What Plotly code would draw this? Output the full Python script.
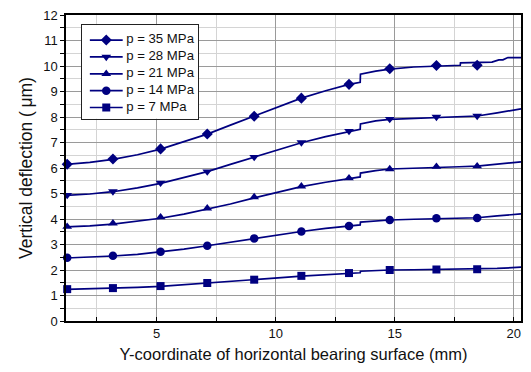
import plotly.graph_objects as go

# Pressure load cases
pressures = ["p = 35 MPa", "p = 28 MPa", "p = 21 MPa", "p = 14 MPa", "p = 7 MPa"]
symbols = ["diamond", "triangle-down", "triangle-up", "circle", "square"]
marker_sizes = [8.5, 8.5, 8.5, 8.5, 8]

# Marker positions (mm) and vertical deflection (um)
x_mark = [1.25, 3.17, 5.17, 7.13, 9.1, 11.08, 13.08, 14.79, 16.75, 18.46]
y_mark_35 = [6.15, 6.35, 6.75, 7.33, 8.03, 8.74, 9.28, 9.89, 10.02, 10.03]
y_mark_28 = [4.94, 5.08, 5.42, 5.86, 6.43, 7.0, 7.45, 7.92, 8.0, 8.04]
y_mark_21 = [3.70, 3.83, 4.07, 4.42, 4.86, 5.28, 5.60, 5.96, 6.05, 6.07]
y_mark_14 = [2.48, 2.56, 2.72, 2.95, 3.24, 3.51, 3.73, 3.96, 4.03, 4.04]
y_mark_7 = [1.25, 1.29, 1.37, 1.49, 1.62, 1.77, 1.88, 2.0, 2.02, 2.03]

# Continuous deflection profiles
x_line_35 = [1.21, 2.2, 3.17, 4.2, 5.17, 6.15, 7.13, 8.1, 9.1, 10.1, 11.08, 12.1, 13.08,
             13.55, 13.56, 14.2, 14.79, 15.8, 16.75, 17.75, 17.76, 18.46, 19.08, 19.37,
             19.54, 19.75, 20.3]
y_line_35 = [6.14, 6.22, 6.34, 6.52, 6.74, 7.02, 7.33, 7.68, 8.03, 8.40, 8.74, 9.03, 9.28,
             9.36, 9.68, 9.80, 9.88, 9.96, 10.0, 10.03, 10.12, 10.13, 10.15, 10.24,
             10.24, 10.33, 10.33]

x_line = [1.21, 2.2, 3.17, 4.2, 5.17, 6.15, 7.13, 8.1, 9.1, 10.1, 11.08, 12.1, 13.08,
          13.55, 13.56, 14.2, 14.79, 15.8, 16.75, 17.7, 18.46, 19.3, 20.3]
y_line_28 = [4.93, 4.98, 5.07, 5.22, 5.40, 5.62, 5.86, 6.14, 6.42, 6.72, 6.99, 7.23, 7.43,
             7.52, 7.73, 7.85, 7.91, 7.95, 7.98, 8.01, 8.04, 8.16, 8.32]
y_line_21 = [3.69, 3.73, 3.80, 3.91, 4.03, 4.19, 4.38, 4.59, 4.83, 5.05, 5.27, 5.44, 5.59,
             5.65, 5.80, 5.90, 5.96, 6.0, 6.03, 6.05, 6.07, 6.14, 6.24]
y_line_14 = [2.47, 2.50, 2.55, 2.61, 2.71, 2.82, 2.95, 3.09, 3.24, 3.38, 3.51, 3.63, 3.73,
             3.77, 3.88, 3.93, 3.96, 3.99, 4.02, 4.04, 4.05, 4.12, 4.20]
y_line_7 = [1.24, 1.26, 1.28, 1.32, 1.36, 1.42, 1.48, 1.55, 1.62, 1.69, 1.76, 1.82, 1.87,
            1.89, 1.95, 1.98, 2.0, 2.01, 2.02, 2.02, 2.03, 2.06, 2.11]

x_ticks = [5, 10, 15, 20]
y_ticks = list(range(0, 13))

lines_x = [x_line_35, x_line, x_line, x_line, x_line]
lines_y = [y_line_35, y_line_28, y_line_21, y_line_14, y_line_7]
marks_y = [y_mark_35, y_mark_28, y_mark_21, y_mark_14, y_mark_7]

color = "#000080"
line_w = 1.7
fig = go.Figure()

for name, sym, ms, lx, ly, my in zip(pressures, symbols, marker_sizes, lines_x, lines_y, marks_y):
    fig.add_trace(go.Scatter(x=lx, y=ly, mode="lines", line=dict(color=color, width=line_w),
                             showlegend=False, hoverinfo="skip", name=name))
    fig.add_trace(go.Scatter(x=x_mark, y=my, mode="markers", cliponaxis=False,
                             marker=dict(symbol=sym, size=ms, color=color),
                             showlegend=False, name=name))

# Key box drawn in a small inset subplot (x2/y2), rows top to bottom
row_y = [0.84, 0.66, 0.48, 0.30, 0.12]
for name, sym, ms, ry in zip(pressures, symbols, marker_sizes, row_y):
    fig.add_trace(go.Scatter(x=[0.068, 0.35], y=[ry, ry], mode="lines",
                             line=dict(color=color, width=line_w),
                             xaxis="x2", yaxis="y2", showlegend=False, hoverinfo="skip"))
    fig.add_trace(go.Scatter(x=[0.209], y=[ry], mode="markers",
                             marker=dict(symbol=sym, size=ms, color=color),
                             xaxis="x2", yaxis="y2", showlegend=False, hoverinfo="skip"))
    fig.add_trace(go.Scatter(x=[0.38], y=[ry], mode="text", text=[name],
                             textposition="middle right",
                             textfont=dict(size=13.2, color="#111111"),
                             xaxis="x2", yaxis="y2", showlegend=False, hoverinfo="skip"))

font_family = "Liberation Sans, Arial, sans-serif"
fig.update_layout(
    width=531, height=372,
    margin=dict(l=66, r=8, t=14, b=51),
    paper_bgcolor="white", plot_bgcolor="white",
    font=dict(family=font_family, color="#111111"),
    showlegend=False,
    xaxis=dict(range=[1.2, 20.3], tickvals=x_ticks, ticks="inside", ticklen=4,
               tickcolor="black", showline=True, linecolor="black", linewidth=1.5,
               mirror=True, showgrid=True, gridcolor="#9a9a9a", gridwidth=1,
               zeroline=False, tickfont=dict(size=13),
               minor=dict(dtick=2.5, tick0=0, showgrid=True, gridcolor="#d4d4d4",
                          ticks="inside", ticklen=4, tickcolor="black"),
               title=dict(text="Y-coordinate of horizontal bearing surface (mm)",
                          font=dict(size=16.5), standoff=8)),
    yaxis=dict(range=[0, 12], tickvals=y_ticks, ticks="outside", ticklen=4,
               tickcolor="black", showline=True, linecolor="black", linewidth=1.5,
               mirror=True, showgrid=True, gridcolor="#9a9a9a", gridwidth=1,
               zeroline=False, tickfont=dict(size=13),
               minor=dict(dtick=0.5, tick0=0, showgrid=True, gridcolor="#d4d4d4",
                          ticks="outside", ticklen=4, tickcolor="black"),
               title=dict(text="Vertical deflection (\u2009\u03bcm)", font=dict(size=17.5),
                          standoff=6)),
    xaxis2=dict(domain=[0.035, 0.291], range=[0, 1], anchor="y2",
                showgrid=False, zeroline=False, showticklabels=False, ticks="",
                showline=True, mirror=True, linecolor="#222222", linewidth=1),
    yaxis2=dict(domain=[0.661, 0.967], range=[0, 1], anchor="x2",
                showgrid=False, zeroline=False, showticklabels=False, ticks="",
                showline=True, mirror=True, linecolor="#222222", linewidth=1),
)

fig.write_html("out.html")
